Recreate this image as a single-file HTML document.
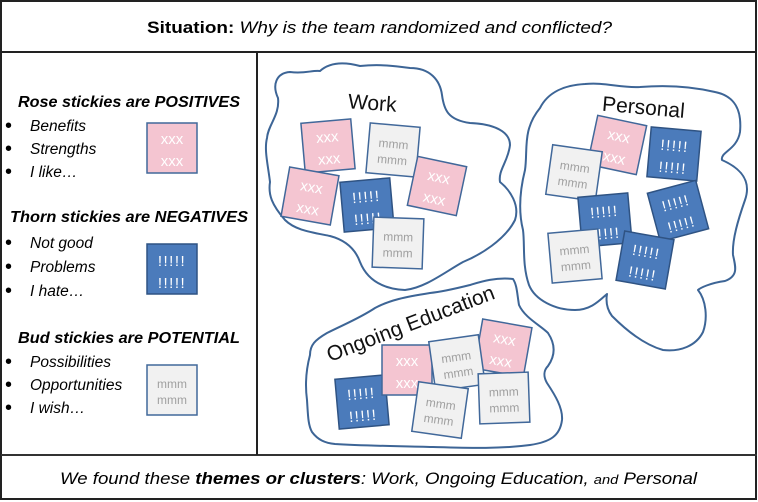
<!DOCTYPE html>
<html><head><meta charset="utf-8"><style>
html,body{margin:0;padding:0;background:#fff;}
svg{display:block;}
text{font-family:"Liberation Sans",sans-serif;}
</style></head><body>
<svg width="758" height="502" viewBox="0 0 758 502" xmlns="http://www.w3.org/2000/svg">
<defs>
<g id="rose"><rect x="-25" y="-25" width="50" height="50" fill="#f4c5d1" stroke="#41689a" stroke-width="1.5"/><text x="0" y="-4" text-anchor="middle" fill="#fff" font-size="15">xxx</text><text x="0" y="18" text-anchor="middle" fill="#fff" font-size="15">xxx</text></g>
<g id="thorn"><rect x="-25" y="-25" width="50" height="50" fill="#4b7bbb" stroke="#2f5383" stroke-width="1.5"/><text x="0" y="-3" text-anchor="middle" fill="#fff" font-size="15" letter-spacing="1.5">!!!!!</text><text x="0" y="19" text-anchor="middle" fill="#fff" font-size="15" letter-spacing="1.5">!!!!!</text></g>
<g id="bud"><rect x="-25" y="-25" width="50" height="50" fill="#f1f1f1" stroke="#41689a" stroke-width="1.5"/><text x="0" y="-2" text-anchor="middle" fill="#a0a0a0" font-size="12">mmm</text><text x="0" y="14" text-anchor="middle" fill="#a0a0a0" font-size="12">mmm</text></g>
</defs>
<rect x="1" y="1" width="755" height="498" fill="#fff" stroke="#222" stroke-width="2"/>
<line x1="1" y1="52" x2="757" y2="52" stroke="#222" stroke-width="2"/>
<line x1="1" y1="455" x2="757" y2="455" stroke="#333" stroke-width="2"/>
<line x1="257" y1="52" x2="257" y2="455" stroke="#222" stroke-width="2"/>

<text x="147" y="33" font-size="16.5" textLength="465" lengthAdjust="spacingAndGlyphs"><tspan font-weight="bold">Situation: </tspan><tspan font-style="italic">Why is the team randomized and conflicted?</tspan></text>
<text x="60" y="484" font-size="16.5" font-style="italic" textLength="637" lengthAdjust="spacingAndGlyphs">We found these <tspan font-weight="bold">themes or clusters</tspan>: Work, Ongoing Education, <tspan font-size="13">and</tspan> Personal</text>

<g font-size="15.5" font-style="italic">
<text x="18" y="107" font-weight="bold" textLength="222" lengthAdjust="spacingAndGlyphs">Rose stickies are POSITIVES</text>
<text x="30" y="131">Benefits</text><text x="30" y="154">Strengths</text><text x="30" y="177">I like…</text>
<text x="10" y="222" font-weight="bold" textLength="238" lengthAdjust="spacingAndGlyphs">Thorn stickies are NEGATIVES</text>
<text x="30" y="248">Not good</text><text x="30" y="272">Problems</text><text x="30" y="296">I hate…</text>
<text x="18" y="343" font-weight="bold" textLength="222" lengthAdjust="spacingAndGlyphs">Bud stickies are POTENTIAL</text>
<text x="30" y="367">Possibilities</text><text x="30" y="390">Opportunities</text><text x="30" y="413">I wish…</text>
</g>
<g font-size="20">
<text x="5" y="132">•</text><text x="5" y="155">•</text><text x="5" y="178">•</text>
<text x="5" y="249">•</text><text x="5" y="273">•</text><text x="5" y="297">•</text>
<text x="5" y="368">•</text><text x="5" y="391">•</text><text x="5" y="414">•</text>
</g>
<use href="#rose" x="172" y="148"/>
<use href="#thorn" x="172" y="269"/>
<use href="#bud" x="172" y="390"/>

<g fill="none" stroke="#3d6596" stroke-width="2" stroke-linejoin="round">
<path d="M278,98 C272,85 276,73 290,72 C305,74 312,70 320,71 C330,62 345,62 360,66 C380,64 395,66 410,68 C430,68 440,80 442,95 C444,110 448,120 470,123 C495,124 510,132 510,145 C508,162 498,170 500,182 C510,190 520,205 515,220 C505,240 480,255 463,262 C445,272 425,288 405,290 C385,289 368,282 360,262 C355,248 345,240 330,236 C310,232 295,230 285,220 C272,205 268,195 270,182 C268,165 264,150 267,138 C268,125 280,115 278,98 Z"/>
<path d="M540,108 C548,92 565,85 585,84 C605,82 620,88 640,87 C665,85 690,86 715,92 C735,96 742,110 740,132 C737,150 720,152 722,160 C740,168 752,180 745,200 C738,220 732,240 733,255 C736,268 738,276 725,281 C710,283 700,288 698,290 C706,300 708,318 703,332 C696,346 680,352 663,350 C645,345 628,332 612,316 C606,308 606,300 607,294 C598,302 590,310 575,310 C555,310 535,300 529,285 C522,265 525,245 523,230 C518,210 520,190 525,170 C528,150 522,130 540,108 Z"/>
<path d="M513,279 C495,277 480,282 470,285 C450,290 440,292 430,293 C405,297 390,300 375,308 C360,318 345,324 327,333 C315,340 310,345 310,355 C306,370 305,385 307,400 C308,415 308,425 312,432 C318,440 325,443 335,444 C365,446 400,446 433,447 C470,448 500,449 530,445 C550,442 560,436 562,420 C563,408 555,395 547,383 C543,376 544,370 548,366 C555,356 556,345 548,333 C540,325 525,318 519,305 C517,293 517,285 513,279 Z"/>
</g>

<g font-size="21" fill="#111">
<text x="348" y="110" transform="rotate(4 372 103)">Work</text>
<text x="602" y="114" transform="rotate(5 640 108)">Personal</text>
</g>

<!-- Work -->
<use href="#rose" transform="translate(328,146) rotate(-5)"/>
<use href="#bud" transform="translate(393,150) rotate(5)"/>
<use href="#rose" transform="translate(310,196) rotate(10)"/>
<use href="#rose" transform="translate(437,186) rotate(12)"/>
<use href="#thorn" transform="translate(367,205) rotate(-5)"/>
<use href="#bud" transform="translate(398,243) rotate(2)"/>

<!-- Personal -->
<use href="#rose" transform="translate(617,145) rotate(12)"/>
<use href="#thorn" transform="translate(674,154) rotate(5)"/>
<use href="#bud" transform="translate(574,173) rotate(8)"/>
<use href="#thorn" transform="translate(605,220) rotate(-5)"/>
<use href="#thorn" transform="translate(678,211) rotate(-15)"/>
<use href="#bud" transform="translate(575,256) rotate(-5)"/>
<use href="#thorn" transform="translate(645,260) rotate(10)"/>

<!-- Ongoing Education -->
<use href="#thorn" transform="translate(362,402) rotate(-5)"/>
<use href="#rose" transform="translate(407,370) rotate(0)"/>
<use href="#rose" transform="translate(503,348) rotate(10)"/>
<use href="#bud" transform="translate(457,363) rotate(-8)"/>
<use href="#bud" transform="translate(440,410) rotate(8)"/>
<use href="#bud" transform="translate(504,398) rotate(-2)"/>

<text font-size="21" fill="#111" transform="translate(330,362) rotate(-21)" textLength="178" lengthAdjust="spacingAndGlyphs">Ongoing Education</text>
</svg>
</body></html>
